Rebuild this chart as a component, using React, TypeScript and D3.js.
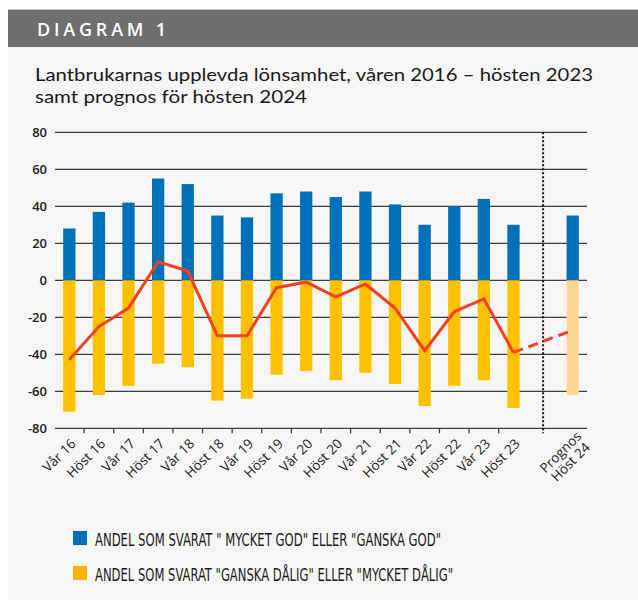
import React from 'react';
import * as d3 from 'd3';

const categories = ['Vår 16', 'Höst 16', 'Vår 17', 'Höst 17', 'Vår 18', 'Höst 18', 'Vår 19', 'Höst 19', 'Vår 20', 'Höst 20', 'Vår 21', 'Höst 21', 'Vår 22', 'Höst 22', 'Vår 23', 'Höst 23'];
const forecastLabel = ['Prognos', 'Höst 24'];
const positive = [28, 37, 42, 55, 52, 35, 34, 47, 48, 45, 48, 41, 30, 40, 44, 30];
const negative = [-71, -62, -57, -45, -47, -65, -64, -51, -49, -54, -50, -56, -68, -57, -54, -69];
const net = [-43, -25, -15, 10, 5, -30, -30, -4, -1, -9, -2, -15, -38, -17, -10, -39];
const forecastPositive = 35;
const forecastNegative = -62;
const forecastNet = -27;
const yTicks = [80, 60, 40, 20, 0, -20, -40, -60, -80];
const titleLines = ['Lantbrukarnas upplevda lönsamhet, våren 2016 – hösten 2023', 'samt prognos för hösten 2024'];
const legendItems = [
  { label: 'ANDEL SOM SVARAT " MYCKET GOD" ELLER "GANSKA GOD"', color: '#0070ba' },
  { label: 'ANDEL SOM SVARAT "GANSKA DÅLIG" ELLER "MYCKET DÅLIG"', color: '#ffb300' },
];

const BLUE = '#0070ba';
const YELLOW = '#ffc000';
const YELLOW_LIGHT = '#fdd895';
const RED = '#f2401e';
const GRID = '#3c3c3c';
const FONT = "'Open Sans', 'Noto Sans', sans-serif";

export default function App() {
  const domain = [...categories, 'gap', 'forecast'];
  const x = d3.scaleBand<string>().domain(domain).range([54.5, 587.5]).paddingInner(0.585).paddingOuter(0.2925);
  const y = d3.scaleLinear().domain([-80, 80]).range([428.3, 132.3]);
  const bw = x.bandwidth();
  const cx = (c: string) => (x(c) as number) + bw / 2;

  const linePath = d3.line<number>()
    .x((_, i) => cx(categories[i]))
    .y((d) => y(d))(net) as string;
  const dashPath = d3.line<[number, number]>()([
    [cx(categories[categories.length - 1]), y(net[net.length - 1])],
    [cx('forecast'), y(forecastNet)],
  ]) as string;

  const tickXs = categories.slice(1).map((c, i) => (cx(categories[i]) + cx(c)) / 2);

  return (
    <svg width={638} height={600} style={{ position: 'absolute', left: 0, top: 0 }}>
      <rect x={8} y={9} width={630} height={591} fill="#f6f6f6" />
      <rect x={8} y={9} width={630} height={1} fill="#c4c4c4" />
      <rect x={8} y={10} width={630} height={37} fill="#6f6f6f" />
      <text x={37} y={36} fill="#fff" fontFamily={FONT} fontSize={18} fontWeight={600} letterSpacing={3.8}>DIAGRAM 1</text>
      <text x={35} y={81} fill="#1a1a1a" fontFamily="Lato, sans-serif" fontSize={18} textLength={558} lengthAdjust="spacingAndGlyphs">{titleLines[0]}</text>
      <text x={35} y={103} fill="#1a1a1a" fontFamily="Lato, sans-serif" fontSize={18} textLength={272} lengthAdjust="spacingAndGlyphs">{titleLines[1]}</text>

      {yTicks.map((t) => (
        <g key={t}>
          <line x1={55} x2={587} y1={y(t)} y2={y(t)} stroke={GRID} strokeWidth={1.3} />
          <text x={47} y={y(t)} dy="0.35em" textAnchor="end" fontFamily={FONT} fontSize={13} fontWeight={600} fill="#222">{t}</text>
        </g>
      ))}

      {categories.map((c, i) => (
        <g key={c}>
          <rect x={x(c)} y={y(positive[i])} width={bw} height={y(0) - y(positive[i])} fill={BLUE} />
          <rect x={x(c)} y={y(0)} width={bw} height={y(negative[i]) - y(0)} fill={YELLOW} />
        </g>
      ))}
      <rect x={x('forecast')} y={y(forecastPositive)} width={bw} height={y(0) - y(forecastPositive)} fill={BLUE} />
      <rect x={x('forecast')} y={y(0)} width={bw} height={y(forecastNegative) - y(0)} fill={YELLOW_LIGHT} />

      {tickXs.map((tx, i) => (
        <line key={i} x1={tx} x2={tx} y1={y(-80)} y2={y(-80) + 5} stroke={GRID} strokeWidth={1.3} />
      ))}
      <line x1={cx('gap')} x2={cx('gap')} y1={y(80)} y2={y(-80) + 5} stroke="#111" strokeWidth={2} strokeDasharray="2,2" />

      <path d={linePath} fill="none" stroke={RED} strokeWidth={3} strokeLinejoin="miter" />
      <path d={dashPath} fill="none" stroke={RED} strokeWidth={3} strokeDasharray="10,6" />

      {categories.map((c) => (
        <text key={c} transform={`translate(${cx(c) + 4},${y(-80) + 13}) rotate(-45)`} textAnchor="end" dy="0.35em" fontFamily={FONT} fontSize={13.5} fill="#222">{c}</text>
      ))}
      <text transform={`translate(${cx('forecast') - 6},${y(-80) + 30}) rotate(-45)`} textAnchor="middle" fontFamily={FONT} fontSize={13.5} fill="#222">
        <tspan x={0} dy="-0.3em">{forecastLabel[0]}</tspan>
        <tspan x={0} dy="1.05em">{forecastLabel[1]}</tspan>
      </text>

      {legendItems.map((d, i) => (
        <g key={d.label} transform={`translate(73,${531 + i * 35})`}>
          <rect x={0} y={0} width={14} height={14} fill={d.color} />
          <text x={22} y={14.5} fontFamily="'Liberation Sans Narrow', 'DejaVu Sans Condensed', sans-serif" fontSize={18} fill="#1a1a1a" textLength={i === 0 ? 346 : 358} lengthAdjust="spacingAndGlyphs">{d.label}</text>
        </g>
      ))}
    </svg>
  );
}
